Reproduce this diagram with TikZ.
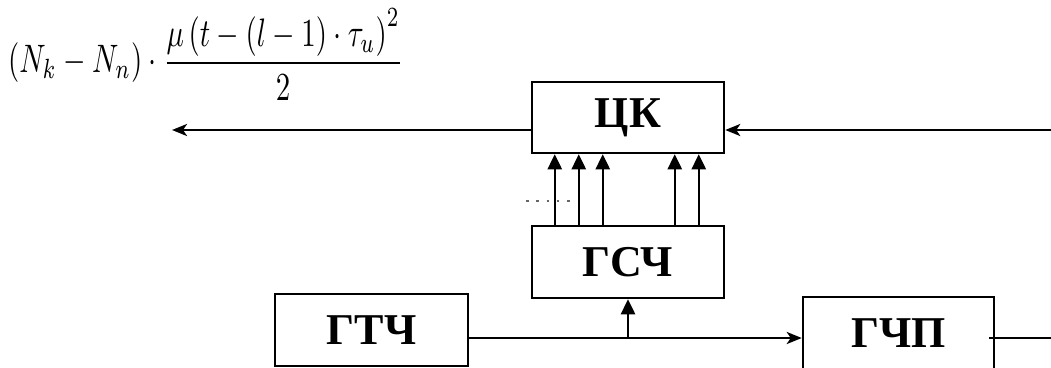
\documentclass[tikz,border=0pt]{standalone}
\usepackage{fontspec}
\setmainfont{Liberation Serif}
\usepackage{graphicx}
\usetikzlibrary{arrows.meta,calc}
\begin{document}
\begin{tikzpicture}[x=1pt,y=-1pt,
  blk/.style={draw=black,line width=2.5pt,minimum width=192pt,minimum height=71pt,inner sep=0pt,
     font=\fontsize{44}{44}\selectfont\bfseries},
  conn/.style={line width=2.5pt},
  arr/.style={conn,-{Stealth[length=15pt,width=12pt,inset=4pt]}},
  varr/.style={conn,-{Triangle[length=15pt,width=14pt]}}]
\useasboundingbox (0,0) rectangle (1051,367);
\clip (0,0) rectangle (1051,367);
% formula
\node[anchor=north west,inner sep=0pt] (formula) at (8,8)
  {\resizebox*{395pt}{92pt}{$\displaystyle (N_k - N_n)\cdot\frac{\mu\left(t-(l-1)\cdot\tau_u\right)^2}{2}$}};
% blocks
\node[blk] (ck) at (628,117.5) {ЦК};
\node[blk,minimum height=72pt] (gsc) at (628,262) {ГСЧ};
\node[blk,minimum width=193pt,minimum height=72pt] (gtc) at (371.5,330) {ГТЧ};
\node[blk,minimum width=191pt,minimum height=72pt] (gcp) at (898.5,333) {ГЧП};
% coordinates
\coordinate (outL) at (172,130);
\coordinate (inR) at (1051,130);
\coordinate (br) at (628,338);
\coordinate (outR) at (1051,338);
% connectors
\draw[arr] ($(ck.west)+(0,12.5)$) -- (outL);
\draw[arr] (inR) -- ($(ck.east)+(0,12.5)$);
\foreach \dx in {24,48,72,144,168}
  \draw[varr] ($(gsc.north west)+(\dx,0)$) -- ($(ck.south west)+(\dx,0)$);
\draw[line width=2.5pt,gray!80!black,dash pattern=on 2.5pt off 7.8pt] (526,201) -- (572,201);
\draw[arr] ($(gtc.east)+(0,8)$) -- ($(gcp.west)+(0,5)$);
\draw[varr] (br) -- (gsc.south);
\draw[conn] ($(gcp.east)+(-6,5)$) -- (outR);
\end{tikzpicture}
\end{document}
